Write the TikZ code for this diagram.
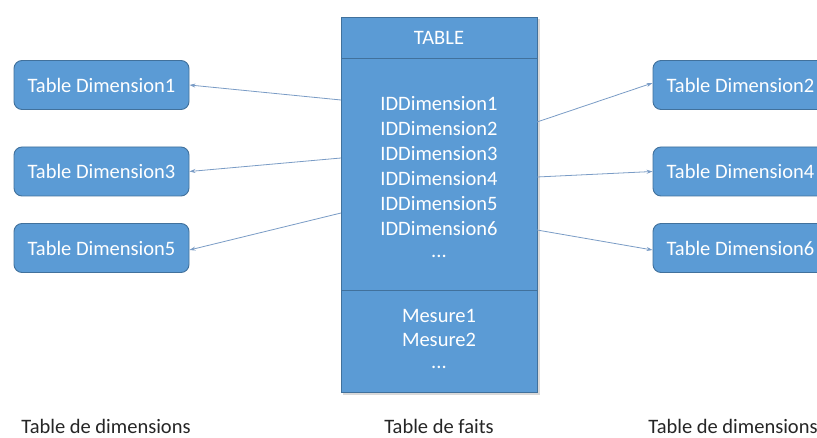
\documentclass[tikz,border=0pt]{standalone}
\usepackage{fontspec}
\setmainfont{Carlito}
\usetikzlibrary{arrows.meta}
\definecolor{boxfill}{HTML}{5B9BD5}
\definecolor{boxline}{HTML}{41719C}
\definecolor{arrowcol}{HTML}{7A9CC6}
\definecolor{labelcol}{HTML}{262626}
\tikzset{
  dimbox/.style={draw=boxline, line width=0.9pt, fill=boxfill, rounded corners=8pt,
    minimum width=175pt, minimum height=49pt, inner sep=0pt,
    text=white, font=\fontsize{20.5}{24}\selectfont},
  cell/.style={draw=boxline, line width=0.9pt, fill=boxfill},
  field/.style={text=white, font=\fontsize{20.5}{24}\selectfont, inner sep=0pt},
  caption/.style={text=labelcol, font=\fontsize{20.5}{24}\selectfont, inner sep=0pt},
  link/.style={draw=arrowcol, line width=0.8pt, -{Stealth[length=6pt,width=4pt]}}
}
\begin{document}
\begin{tikzpicture}[x=1pt, y=-1pt]
\useasboundingbox (0,0) rectangle (817,438);
\clip (0,0) rectangle (817,438);
\fill[white] (0,0) rectangle (817,438);

% fact table: shadow, then header, key block and measure block
\fill[black!15] (343,19) rectangle (540,395);
\path[cell] (341,58) rectangle (537,290);
\path[cell] (341,290) rectangle (537,392);
\path[cell] (341,17) rectangle (537,58);
\node (tbl) [inner sep=0pt, minimum width=196pt, minimum height=375pt] at (439,204.5) {};
\node[field] (title) at (439,38) {TABLE};
\node[field] (k1) at (439,104) {IDDimension1};
\node[field] (k2) at (439,129) {IDDimension2};
\node[field] (k3) at (439,154) {IDDimension3};
\node[field] (k4) at (439,179) {IDDimension4};
\node[field] (k5) at (439,204) {IDDimension5};
\node[field] (k6) at (439,229) {IDDimension6};
\node[field] (kx) at (439,256) {...};
\node[field] (m1) at (439,316) {Mesure1};
\node[field] (m2) at (439,340) {Mesure2};
\node[field] (mx) at (439,367) {...};

% dimension tables
\node[dimbox] (d1) at (101.5,85) {Table Dimension1};
\node[dimbox] (d3) at (101.5,171.5) {Table Dimension3};
\node[dimbox] (d5) at (101.5,248) {Table Dimension5};
\node[dimbox] (d2) at (740.5,85) {Table Dimension2};
\node[dimbox] (d4) at (740.5,171.5) {Table Dimension4};
\node[dimbox] (d6) at (740.5,248) {Table Dimension6};

% link anchors on the fact table edges
\coordinate (l1) at (341,100);
\coordinate (l3) at (341,158);
\coordinate (l5) at (341,213);
\coordinate (r2) at (537,122);
\coordinate (r4) at (537,177);
\coordinate (r6) at (537,230);

\draw[link] (l1) -- (d1.east);
\draw[link] (l3) -- (d3.east);
\draw[link] (l5) -- ([yshift=-2pt]d5.east);
\draw[link] (r2) -- ([yshift=2pt]d2.west);
\draw[link] (r4) -- (d4.west);
\draw[link] (r6) -- ([yshift=-2pt]d6.west);

% captions
\node[caption] (c1) at (106,426) {Table de dimensions};
\node[caption] (c2) at (439,426) {Table de faits};
\node[caption] (c3) at (733,426) {Table de dimensions};
\end{tikzpicture}
\end{document}
